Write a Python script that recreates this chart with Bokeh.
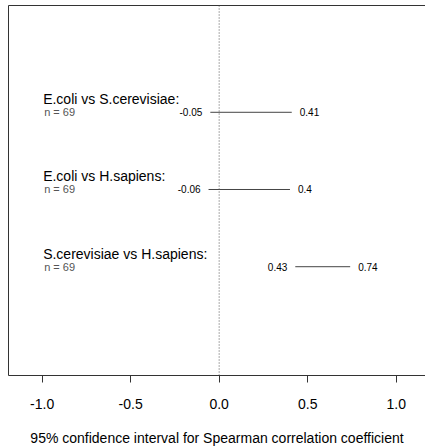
from bokeh.plotting import figure
from bokeh.models import LinearAxis, FixedTicker, Range1d, Span, ColumnDataSource
from bokeh.embed import file_html
from bokeh.resources import INLINE
from bokeh.core.properties import value

# Spearman correlation confidence intervals between organisms
comparisons = ["E.coli vs S.cerevisiae:", "E.coli vs H.sapiens:", "S.cerevisiae vs H.sapiens:"]
n_pairs = [69, 69, 69]
ci_low = [-0.05, -0.06, 0.43]
ci_high = [0.41, 0.40, 0.74]
x_ticks = [-1.0, -0.5, 0.0, 0.5, 1.0]
x_tick_labels = ["-1.0", "-0.5", "0.0", "0.5", "1.0"]
x_title = "95% confidence interval for Spearman correlation coefficient"

rows = [3, 2, 1]  # top to bottom


def fmt(v):
    return f"{round(v, 2):g}"


FONT = "Liberation Sans"
BOX = "#333333"

src = ColumnDataSource(dict(
    y=rows,
    low=ci_low,
    high=ci_high,
    title=comparisons,
    n=[f"n = {k}" for k in n_pairs],
    low_txt=[fmt(v) for v in ci_low],
    high_txt=[fmt(v) for v in ci_high],
    left=[-1.0] * len(rows),
))

p = figure(
    frame_width=417, frame_height=370,
    x_range=Range1d(-1.190, 1.1655), y_range=Range1d(-0.409, 4.383),
    output_backend="svg", toolbar_location=None,
    y_axis_location=None,
    min_border_left=8, min_border_right=0, min_border_top=5, min_border_bottom=10,
    outline_line_color=None,
    background_fill_color="white", border_fill_color="white",
)
p.xgrid.visible = False
p.ygrid.visible = False

# bottom axis
ax = p.xaxis[0]
ax.ticker = FixedTicker(ticks=x_ticks)
ax.major_label_overrides = dict(zip(x_ticks, x_tick_labels))
ax.minor_tick_line_color = None
ax.major_tick_in = 0
ax.major_tick_out = 7
ax.major_tick_line_color = BOX
ax.axis_line_color = BOX
ax.major_label_standoff = 16
ax.major_label_text_font = FONT
ax.major_label_text_font_size = "14px"
ax.major_label_text_color = "black"
ax.axis_label = x_title
ax.axis_label_text_font = FONT
ax.axis_label_text_font_size = "14px"
ax.axis_label_text_font_style = "normal"
ax.axis_label_text_color = "black"
ax.axis_label_standoff = 18

# left and top border lines
for loc in ("left", "above"):
    b = LinearAxis(ticker=FixedTicker(ticks=[]), axis_line_color=BOX,
                   major_tick_in=0, major_tick_out=0, minor_tick_in=0, minor_tick_out=0,
                   major_label_standoff=0, major_label_text_font_size="0px")
    p.add_layout(b, loc)

# reference line at zero
p.add_layout(Span(location=0, dimension="height", line_color="#555555",
                  line_dash="1 2", line_width=1))

# interval segments
p.segment(x0="low", x1="high", y0="y", y1="y", source=src, line_color="#444444", line_width=1)

# interval end labels
p.text(x="low", y="y", text="low_txt", source=src, text_align="right", text_baseline="middle",
       x_offset=-8, text_font=value(FONT), text_font_size="10px", text_color="black")
p.text(x="high", y="y", text="high_txt", source=src, text_align="left", text_baseline="middle",
       x_offset=8, text_font=value(FONT), text_font_size="10px", text_color="black")

# comparison titles and sample sizes
p.text(x="left", y="y", text="title", source=src, text_align="left", text_baseline="middle",
       x_offset=1, y_offset=-13, text_font=value(FONT), text_font_size="14px", text_color="black")
p.text(x="left", y="y", text="n", source=src, text_align="left", text_baseline="middle",
       x_offset=2, y_offset=0, text_font=value(FONT), text_font_size="11px", text_color="#555555")

open("out.html", "w").write(file_html(p, INLINE))
